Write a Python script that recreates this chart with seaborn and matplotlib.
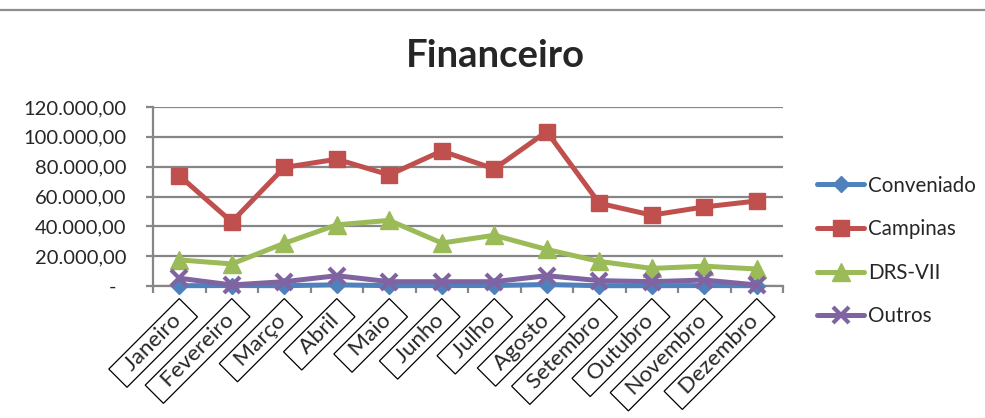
import matplotlib
matplotlib.use("Agg")
import matplotlib.pyplot as plt
from matplotlib.lines import Line2D
from matplotlib.ticker import FuncFormatter, FixedLocator
import seaborn as sns
import pandas as pd

meses = ["Janeiro", "Fevereiro", "Março", "Abril", "Maio", "Junho",
         "Julho", "Agosto", "Setembro", "Outubro", "Novembro", "Dezembro"]
conveniado = [200, 300, 200, 800, 200, 300, 300, 1000, 200, 200, 300, 200]
campinas = [74000, 43000, 79500, 85000, 74500, 90500, 78500, 103500, 55500, 47500, 53000, 57000]
drs_vii = [17500, 14800, 28600, 41000, 44000, 28800, 34000, 24500, 16500, 11800, 13300, 11400]
outros = [5200, 700, 2900, 6900, 2900, 2900, 2900, 6900, 3600, 2900, 4000, 700]
y_ticks = [0, 20000, 40000, 60000, 80000, 100000, 120000]

series = [
    ("Conveniado", conveniado, "#4F81BD", "D", 8.5, 1.0),
    ("Campinas", campinas, "#C0504D", "s", 12, 1.0),
    ("DRS-VII", drs_vii, "#9BBB59", "^", 12.5, 1.0),
    ("Outros", outros, "#8064A2", "x", 12, 3.0),
]

sns.set_style("white")
plt.rcParams["font.family"] = ["Lato", "DejaVu Sans"]

fig = plt.figure(figsize=(9.85, 4.18), dpi=100)
ax = fig.add_axes([153 / 985, 132 / 418, 630 / 985, 179 / 418])

grid_color = "#868686"
for name, vals, color, mk, ms, mew in series:
    df = pd.DataFrame({"pos": range(len(meses)), "valor": vals})
    sns.lineplot(data=df, x="pos", y="valor", ax=ax, color=color, linewidth=3.6,
                 marker=mk, markersize=ms, markeredgecolor=color, markeredgewidth=mew,
                 label=name, zorder=3, clip_on=False)

ax.set_xlim(-0.5, len(meses) - 0.5)
ax.set_ylim(0, 120000)
ax.set_xlabel("")
ax.set_ylabel("")

# y axis: accounting style labels
def fmt(v, _):
    if v == 0:
        return "-  "
    s = f"{v:,.2f}"
    return s.replace(",", "X").replace(".", ",").replace("X", ".")

ax.yaxis.set_major_locator(FixedLocator(y_ticks))
ax.yaxis.set_major_formatter(FuncFormatter(fmt))
ax.yaxis.grid(True, color=grid_color, linewidth=1.6)
ax.set_axisbelow(True)
ax.tick_params(axis="y", which="major", length=5, width=1.6, color=grid_color,
               labelsize=14.5, pad=14, left=True)

# x axis: boxed diagonal month labels, ticks between categories
ax.set_xticks(range(len(meses)))
ax.set_xticklabels([f"  {m}  " for m in meses], rotation=45, ha="right", va="top",
                   rotation_mode="anchor", fontsize=16)
for lbl in ax.get_xticklabels():
    lbl.set_bbox(dict(boxstyle="square,pad=0.13", facecolor="white",
                      edgecolor="black", linewidth=0.9))
ax.set_xticks([i - 0.5 for i in range(len(meses) + 1)], minor=True)
ax.tick_params(axis="x", which="major", length=0, pad=12)
ax.tick_params(axis="x", which="minor", length=5, width=1.6, color=grid_color, bottom=True)

for side in ["top", "right"]:
    ax.spines[side].set_visible(False)
for side in ["left", "bottom"]:
    ax.spines[side].set_color(grid_color)
    ax.spines[side].set_linewidth(1.6)

ax.legend(loc="center left", bbox_to_anchor=(817 / 985, (418 - 251) / 418),
          bbox_transform=fig.transFigure, frameon=False, fontsize=14.8,
          handlelength=2.3, handletextpad=0.2, labelspacing=1.15,
          borderpad=0, borderaxespad=0)

fig.text(0.503, (418 - 67) / 418, "Financeiro", ha="center", va="baseline",
         fontsize=27.5, fontweight="bold")

fig.add_artist(Line2D([0, 1], [(418 - 10) / 418] * 2, transform=fig.transFigure,
                      color="#8e8e8e", linewidth=1.6))

fig.savefig("out.png", dpi=100)
